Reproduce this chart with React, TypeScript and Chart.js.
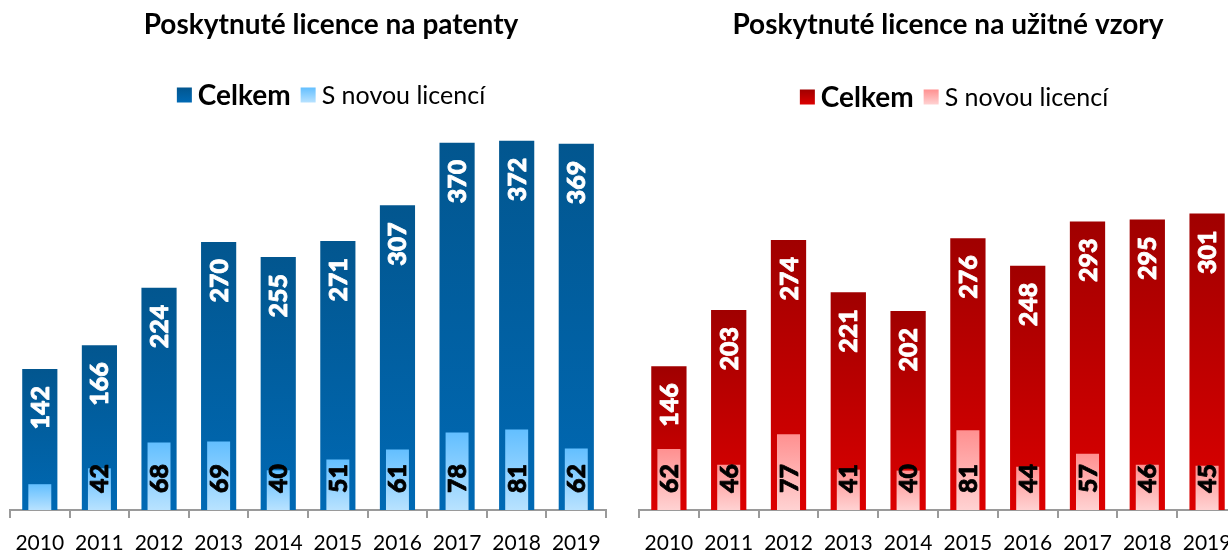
import React, { useEffect, useRef } from 'react';
import { Chart, registerables } from 'chart.js';

Chart.register(...registerables);

// ---- data ----
const years = ['2010', '2011', '2012', '2013', '2014', '2015', '2016', '2017', '2018', '2019'];
const patentTotal = [142, 166, 224, 270, 255, 271, 307, 370, 372, 369];
const patentNew = [26, 42, 68, 69, 40, 51, 61, 78, 81, 62];
const utilityTotal = [146, 203, 274, 221, 202, 276, 248, 293, 295, 301];
const utilityNew = [62, 46, 77, 41, 40, 81, 44, 57, 46, 45];
const seriesNames = ['Celkem', 'S novou licencí'];
const chartTitles = ['Poskytnuté licence na patenty', 'Poskytnuté licence na užitné vzory'];

const FONT = 'Lato, "Open Sans", sans-serif';

const barGradient = (top: string, bottom: string) => (ctx: any) => {
  const chart = ctx.chart;
  const y = chart.scales && chart.scales.y;
  if (ctx.type !== 'data' || !y || !chart.chartArea || !ctx.parsed) return bottom;
  const yTop = y.getPixelForValue(ctx.parsed.y);
  const yBase = y.getPixelForValue(0);
  if (!isFinite(yTop) || !isFinite(yBase) || yTop === yBase) return bottom;
  const g = chart.ctx.createLinearGradient(0, yTop, 0, yBase);
  g.addColorStop(0, top);
  g.addColorStop(1, bottom);
  return g;
};

const barLabels = {
  id: 'barLabels',
  afterDatasetsDraw(chart: any) {
    const c = chart.ctx;
    chart.data.datasets.forEach((ds: any, i: number) => {
      const cfg = ds.valueLabel;
      if (!cfg) return;
      const meta = chart.getDatasetMeta(i);
      meta.data.forEach((el: any, j: number) => {
        const v = ds.data[j];
        if (v < cfg.min) return;
        const { x, y, base } = el.getProps(['x', 'y', 'base'], true);
        const text = String(v);
        c.save();
        c.globalAlpha = 1;
        c.font = `900 25px ${FONT}`;
        c.fillStyle = cfg.color;
        c.strokeStyle = cfg.color;
        c.lineWidth = 0.8;
        c.lineJoin = 'round';
        c.textBaseline = 'alphabetic';
        const m = c.measureText(text);
        const off = (m.actualBoundingBoxAscent - m.actualBoundingBoxDescent) / 2;
        if (cfg.at === 'top') {
          c.translate(x, y + 17);
          c.rotate(-Math.PI / 2);
          c.textAlign = 'right';
        } else {
          c.translate(x, base - 17);
          c.rotate(-Math.PI / 2);
          c.textAlign = 'left';
        }
        c.fillText(text, 0, off);
        c.strokeText(text, 0, off);
        c.restore();
      });
    });
  },
};

const header = {
  id: 'header',
  afterDraw(chart: any, _args: any, opts: any) {
    const c = chart.ctx;
    c.save();
    c.fillStyle = '#000';
    c.textBaseline = 'middle';
    c.textAlign = 'center';
    c.font = `bold 28px ${FONT}`;
    c.fillText(opts.title, opts.titleX, opts.titleY);

    const items = opts.items as any[];
    const sq = 15;
    const gap = 6;
    const spacing = 10;
    const widths = items.map((it) => {
      c.font = `${it.bold ? 'bold' : 'normal'} ${it.size}px ${FONT}`;
      return sq + gap + c.measureText(it.text).width;
    });
    const total = widths.reduce((a, b) => a + b, 0) + spacing * (items.length - 1);
    let x = opts.legendX - total / 2;
    items.forEach((it, k) => {
      const g = c.createLinearGradient(0, opts.legendY - sq / 2, 0, opts.legendY + sq / 2);
      g.addColorStop(0, it.top);
      g.addColorStop(1, it.bottom);
      c.fillStyle = g;
      c.fillRect(x, opts.legendY - sq / 2, sq, sq);
      c.fillStyle = '#000';
      c.textAlign = 'left';
      c.font = `${it.bold ? 'bold' : 'normal'} ${it.size}px ${FONT}`;
      c.fillText(it.text, x + sq + gap, opts.legendY + 1);
      x += widths[k] + spacing;
    });
    c.restore();
  },
};

type Panel = {
  total: number[];
  fresh: number[];
  title: string;
  dark: [string, string];
  light: [string, string];
  padding: { left: number; right: number; top: number; bottom: number };
  titleX: number;
  titleY: number;
  legendX: number;
  legendY: number;
};

function makeConfig(p: Panel): any {
  return {
    type: 'bar',
    data: {
      labels: years,
      datasets: [
        {
          label: seriesNames[0],
          data: p.total,
          backgroundColor: barGradient(p.dark[0], p.dark[1]),
          barPercentage: 0.59,
          categoryPercentage: 1,
          grouped: false,
          order: 1,
          valueLabel: { color: '#ffffff', at: 'top', min: 0 },
        },
        {
          label: seriesNames[1],
          data: p.fresh,
          backgroundColor: barGradient(p.light[0], p.light[1]),
          barPercentage: 0.385,
          categoryPercentage: 1,
          grouped: false,
          order: 0,
          valueLabel: { color: '#000000', at: 'base', min: 30 },
        },
      ],
    },
    options: {
      responsive: false,
      animation: false,
      events: [],
      layout: { padding: p.padding },
      plugins: {
        legend: { display: false },
        title: { display: false },
        tooltip: { enabled: false },
        header: {
          title: p.title,
          titleX: p.titleX,
          titleY: p.titleY,
          legendX: p.legendX,
          legendY: p.legendY,
          items: [
            { text: seriesNames[0], bold: true, size: 28, top: p.dark[0], bottom: p.dark[1] },
            { text: seriesNames[1], bold: false, size: 25, top: p.light[0], bottom: p.light[1] },
          ],
        },
      },
      scales: {
        x: {
          grid: {
            display: true,
            drawOnChartArea: false,
            drawTicks: true,
            tickLength: 8,
            color: '#9a9a9a',
            lineWidth: 2,
            offset: true,
          },
          border: { display: true, color: '#9a9a9a', width: 2 },
          ticks: { color: '#000', font: { family: FONT, size: 21 }, padding: 13, maxRotation: 0 },
          afterFit: (s: any) => {
            s.height = 40;
          },
        },
        y: { display: false, min: 0, max: 400 },
      },
    },
    plugins: [barLabels, header],
  };
}

function ChartPanel({ panel, left, width }: { panel: Panel; left: number; width: number }) {
  const ref = useRef<HTMLCanvasElement | null>(null);
  useEffect(() => {
    if (!ref.current) return;
    const chart = new Chart(ref.current, makeConfig(panel));
    return () => chart.destroy();
  }, [panel]);
  return (
    <canvas
      ref={ref}
      width={width}
      height={550}
      style={{ position: 'absolute', left, top: 0, width, height: 550, display: 'block' }}
    />
  );
}

const leftPanel: Panel = {
  total: patentTotal,
  fresh: patentNew,
  title: chartTitles[0],
  dark: ['#02568f', '#0069b4'],
  light: ['#63bfff', '#b8e2ff'],
  padding: { left: 10, right: 7, top: 113, bottom: 0 },
  titleX: 331,
  titleY: 25,
  legendX: 331,
  legendY: 95,
};

const rightPanel: Panel = {
  total: utilityTotal,
  fresh: utilityNew,
  title: chartTitles[1],
  dark: ['#a00000', '#dc0000'],
  light: ['#ff9090', '#ffd2d2'],
  padding: { left: 25, right: 17, top: 116, bottom: 0 },
  titleX: 334,
  titleY: 25,
  legendX: 340,
  legendY: 97,
};

export default function App() {
  return (
    <div
      style={{
        position: 'absolute',
        left: 0,
        top: 0,
        width: 1228,
        height: 550,
        overflow: 'hidden',
        background: '#fff',
      }}
    >
      <ChartPanel panel={leftPanel} left={0} width={614} />
      <ChartPanel panel={rightPanel} left={614} width={640} />
    </div>
  );
}
